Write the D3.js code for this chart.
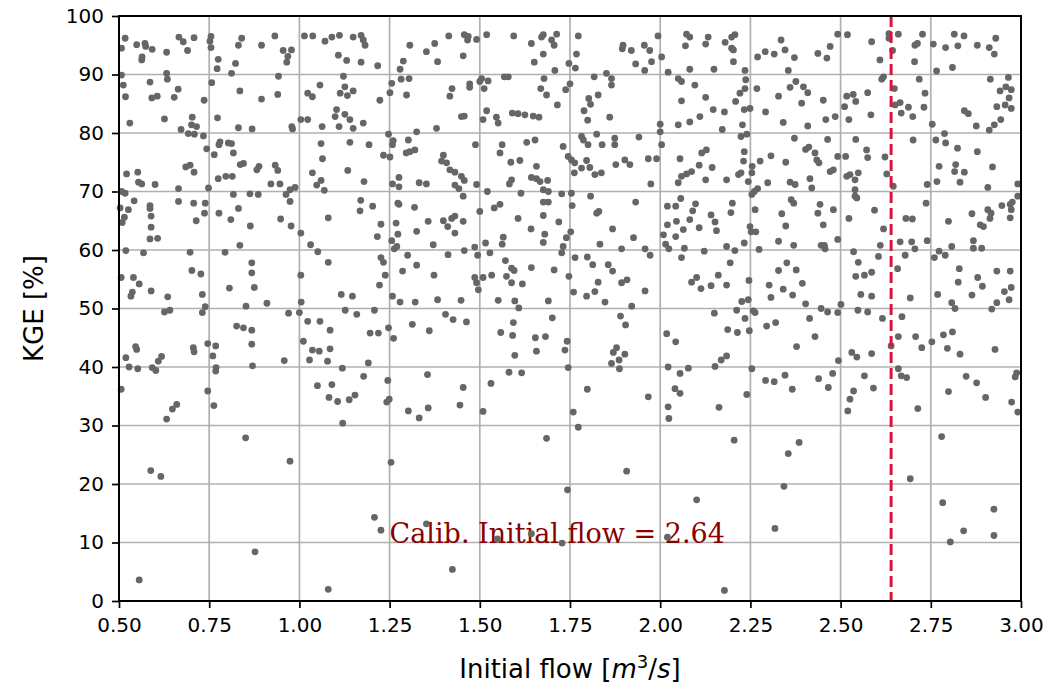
<!DOCTYPE html>
<html>
<head>
<meta charset="utf-8">
<script src="https://cdn.jsdelivr.net/npm/d3@7"></script>
<style>
  html, body { margin: 0; padding: 0; background: #fff; }
  svg { display: block; }
</style>
</head>
<body>
<svg id="chart" width="1058" height="693"></svg>
<script>
// ---- data ----
const xTicks = [0.5, 0.75, 1.0, 1.25, 1.5, 1.75, 2.0, 2.25, 2.5, 2.75, 3.0];
const yTicks = [0, 10, 20, 30, 40, 50, 60, 70, 80, 90, 100];
const xDomain = [0.5, 3.0];
const yDomain = [0, 100];
const calibFlow = 2.64;
const calibLabel = "Calib. Initial flow = 2.64";
const xLabel = "Initial flow";
const yLabel = "KGE [%]";

const samplesTop = [
[0.517,96.2],[0.507,94.5],[0.549,95.1],[0.572,95.3],[0.574,94.8],[0.592,94.3],[0.563,92.5],[0.564,93.0],[0.632,93.8],[0.666,96.4],[0.678,95.6],[0.708,96.3],[0.690,94.1],[0.755,96.5],[0.752,95.7],[0.755,94.6],[0.775,92.6],[0.772,91.0],[0.823,91.9],[0.812,90.2],[0.840,96.2],[0.831,95.0],[0.895,95.0],[0.932,96.6],[0.955,94.1],[0.978,94.2],[0.968,93.1],[0.965,92.1],[1.014,96.6],[1.037,96.6],[1.071,95.7],[1.090,96.4],[1.111,96.7],[1.149,96.4],[1.171,96.7],[1.177,95.9],[1.182,95.0],[1.108,93.3],[1.131,92.4],[1.171,92.1],[1.217,91.5],[1.288,92.3],[1.306,95.0],[1.279,90.9],
[0.507,89.9],[0.512,88.2],[0.518,86.2],[0.586,88.7],[0.632,90.2],[0.634,89.2],[0.664,87.5],[0.653,86.1],[0.591,86.0],[0.606,86.3],[0.736,85.6],[0.757,88.6],[0.835,87.2],[0.895,85.8],[0.942,89.7],[0.940,86.6],[0.530,81.7],[0.626,82.4],[0.703,82.7],[0.701,81.4],[0.715,81.1],[0.672,80.6],[0.692,79.9],[0.709,79.8],[0.734,79.5],[0.773,82.6],[0.831,80.9],[0.869,80.7],[0.979,81.1],[0.981,80.7],[1.004,82.3],[1.023,82.3],[1.057,88.2],[1.023,86.8],[1.036,86.2],[1.063,81.1],[1.122,89.7],[1.126,87.9],[1.113,86.8],[1.133,86.4],[1.149,87.2],[1.103,84.0],[1.099,82.8],[1.126,83.2],[1.140,82.3],[1.110,81.1],[1.149,80.8],[1.177,81.7],[1.223,85.6],[1.251,86.9],[1.256,88.5],[1.282,89.2],[1.304,89.3],[1.297,86.5],[1.325,80.2],
[0.743,77.3],[0.780,78.5],[0.777,78.0],[0.803,78.3],[0.812,78.2],[0.764,76.3],[0.817,76.6],[1.060,78.2],[1.064,75.6],[1.140,78.4],[1.193,78.0],[1.247,79.8],[1.260,78.7],[1.258,78.0],[1.233,76.2],[1.251,75.9],[1.302,78.8],[1.306,76.8],[1.296,76.6],
[1.352,93.9],[1.375,95.3],[1.383,92.2],[1.414,96.6],[1.457,96.8],[1.466,95.9],[1.468,96.5],[1.491,96.0],[1.454,93.2],[1.519,96.8],[1.594,96.6],[1.643,95.3],[1.676,96.8],[1.671,96.4],[1.713,96.9],[1.699,95.9],[1.706,95.0],[1.676,93.5],[1.651,92.1],[1.773,96.6],[1.768,93.5],[1.747,91.9],[1.765,91.1],[1.708,90.7],[1.897,95.0],[1.895,94.4],[1.920,94.1],[1.956,95.0],[1.971,94.1],[1.932,91.8],[1.957,90.7],[1.976,92.2],[2.004,93.0],[1.994,96.6],[2.073,96.9],[2.082,96.4],[2.070,94.9],[2.133,96.4],[2.126,95.2],[2.022,90.4],[2.082,90.9],[2.149,90.9],
[1.505,89.3],[1.500,88.8],[1.523,88.9],[1.512,87.6],[1.472,88.4],[1.472,87.8],[1.423,87.6],[1.417,86.3],[1.568,89.6],[1.579,89.6],[1.678,89.3],[1.669,87.6],[1.685,86.5],[1.715,84.8],[1.750,88.4],[1.738,87.4],[1.817,89.6],[1.851,90.2],[1.865,89.3],[1.865,88.2],[1.828,86.5],[1.802,85.9],[1.807,84.9],[1.789,83.8],[1.799,82.2],[1.860,82.7],[1.519,83.8],[1.509,82.3],[1.546,82.7],[1.551,81.7],[1.590,83.4],[1.606,83.3],[1.625,83.1],[1.648,82.9],[1.664,82.7],[1.457,82.9],[1.449,82.8],[1.380,80.8],[2.050,89.3],[2.059,88.8],[2.096,88.2],[2.059,85.5],[2.126,86.1],[2.147,84.0],[2.110,82.8],[2.082,81.9],[2.050,81.4],[2.000,81.5],[2.000,80.2],
[1.320,77.1],[1.399,76.2],[1.488,78.0],[1.562,78.0],[1.556,76.6],[1.630,78.4],[1.653,78.8],[1.731,77.7],[1.745,76.0],[1.782,79.4],[1.787,78.8],[1.800,78.0],[1.824,79.8],[1.839,78.0],[1.874,79.1],[1.874,78.0],[1.941,79.3],[2.004,78.0],[2.115,76.6],[2.128,77.1],
[2.180,95.5],[2.198,96.4],[2.207,96.8],[2.198,94.5],[2.203,94.2],[2.203,92.2],[2.235,90.7],[2.270,93.0],[2.291,93.9],[2.316,93.5],[2.335,95.9],[2.346,94.2],[2.372,92.9],[2.355,90.7],[2.437,93.6],[2.462,92.8],[2.471,94.8],[2.492,96.9],[2.519,96.8],[2.586,95.6],[2.609,92.5],[2.634,97.0],[2.634,96.2],[2.660,96.9],[2.644,94.1],[2.705,92.2],[2.706,95.0],[2.713,95.3],[2.727,96.9],[2.757,95.2],[2.766,90.6],[2.791,94.6],[2.810,91.2],[2.815,96.9],[2.825,94.9],[2.842,96.6],[2.879,95.0],[2.912,94.6],[2.926,93.5],[2.930,96.2],
[2.237,89.1],[2.235,87.6],[2.221,86.8],[2.209,85.4],[2.233,84.0],[2.249,84.2],[2.178,83.6],[2.172,80.6],[2.228,81.4],[2.224,79.4],[2.240,79.8],[2.268,87.6],[2.292,83.6],[2.328,86.3],[2.341,81.8],[2.360,87.8],[2.376,88.8],[2.397,87.9],[2.409,86.9],[2.392,85.1],[2.409,81.2],[2.452,85.6],[2.459,82.3],[2.485,82.8],[2.511,84.5],[2.517,86.3],[2.535,86.6],[2.542,85.4],[2.523,82.3],[2.575,86.9],[2.584,83.1],[2.614,89.2],[2.619,89.6],[2.649,87.6],[2.651,84.8],[2.665,85.2],[2.668,83.4],[2.688,84.4],[2.700,82.8],[2.718,89.2],[2.734,86.8],[2.731,84.4],[2.754,81.5],[2.843,83.8],[2.854,83.3],[2.876,81.2],[2.912,80.5],[2.926,81.4],[2.944,82.3],[2.915,89.2],[2.942,87.2],[2.958,87.9],[2.965,89.5],[2.973,87.4],[2.967,86.0],[2.933,84.5],[2.956,84.8],[2.973,84.2],
[2.372,79.1],[2.464,78.9],[2.542,78.9],[2.403,77.2],[2.412,77.6],[2.429,76.6],[2.233,76.8],[2.307,76.1],[2.492,76.0],[2.514,76.0],[2.572,77.1],[2.575,75.8],[2.623,75.9],[2.701,78.8],[2.764,78.8],[2.788,79.9],[2.791,78.3],[2.824,77.4],[2.879,76.8]
];

const samplesMiddle = [
[0.521,73.0],[0.552,73.3],[0.554,71.6],[0.563,71.3],[0.600,71.2],[0.685,74.2],[0.697,74.5],[0.708,73.3],[0.665,70.5],[0.748,70.6],[0.775,72.2],[0.796,72.6],[0.814,72.6],[0.836,74.6],[0.845,74.8],[0.882,73.7],[0.888,74.3],[0.933,74.5],[0.940,73.6],[0.921,71.3],[0.946,71.3],[0.974,70.3],[0.988,70.7],[1.036,73.2],[1.060,71.9],[1.048,71.1],[1.069,70.2],[1.134,73.6],[1.179,71.7],[1.258,71.3],[1.276,72.4],[1.276,70.8],[1.332,71.5],
[0.507,70.0],[0.517,69.7],[0.503,67.2],[0.526,66.9],[0.515,65.6],[0.509,64.7],[0.542,68.4],[0.586,67.6],[0.586,67.1],[0.589,65.8],[0.589,63.9],[0.586,61.9],[0.607,62.0],[0.665,68.3],[0.707,68.0],[0.739,68.0],[0.737,66.3],[0.714,65.0],[0.777,66.3],[0.810,65.2],[0.817,69.5],[0.831,67.1],[0.863,69.6],[0.886,69.5],[0.864,64.1],[0.835,60.8],[0.948,65.3],[0.963,69.5],[0.974,68.3],[0.977,64.1],[1.004,62.9],[1.031,60.9],[1.080,65.5],[1.170,68.5],[1.168,66.7],[1.203,67.5],[1.226,64.4],[1.216,62.3],[1.256,61.6],[1.268,64.6],[1.273,62.7],[1.273,68.0],[1.276,67.8],[1.319,67.3],[1.325,63.2],
[0.519,59.9],[0.568,59.5],[0.697,59.6],[0.794,59.6],[0.868,57.8],[0.868,56.1],[0.875,53.6],[0.806,53.5],[0.702,56.5],[0.727,55.9],[0.506,55.3],[0.540,55.3],[0.556,54.2],[0.537,52.8],[0.533,52.1],[0.589,53.0],[0.635,52.0],[0.731,52.4],[0.852,50.4],[0.910,50.9],[1.005,51.1],[1.004,55.7],[1.051,59.7],[1.080,57.9],[1.116,52.4],[1.147,52.1],[1.222,54.0],[1.238,55.7],[1.226,58.7],[1.233,57.9],[1.263,60.2],[1.270,60.6],[1.300,59.1],[1.325,57.4],[1.286,56.4],[1.258,52.1],[1.279,51.1],[1.321,51.1],
[1.394,75.2],[1.408,74.9],[1.417,73.7],[1.431,73.3],[1.449,72.6],[1.457,71.9],[1.431,71.1],[1.442,70.5],[1.352,71.3],[1.491,71.2],[1.454,69.2],[1.586,75.0],[1.611,75.3],[1.588,72.0],[1.582,71.3],[1.657,74.3],[1.643,72.4],[1.657,72.2],[1.667,71.7],[1.688,71.9],[1.614,69.7],[1.521,70.0],[1.676,70.3],[1.690,70.0],[1.676,68.2],[1.690,68.2],[1.727,69.6],[1.754,69.7],[1.756,67.6],[1.754,75.4],[1.763,74.9],[1.762,73.2],[1.782,74.0],[1.805,74.1],[1.819,72.9],[1.837,73.2],[1.796,75.3],[1.877,74.6],[1.902,75.4],[1.916,74.6],[1.967,75.6],[1.990,75.6],[1.974,71.3],[1.807,69.2],[1.932,68.2],[2.055,75.6],[2.050,71.5],[2.059,72.6],[2.073,73.0],[2.087,73.4],[2.108,74.5],[2.144,74.1],[2.126,72.0],
[1.357,64.9],[1.399,65.0],[1.411,64.0],[1.422,65.4],[1.431,65.8],[1.454,64.9],[1.431,62.9],[1.371,60.9],[1.500,66.6],[1.540,67.2],[1.556,67.8],[1.606,65.4],[1.642,63.6],[1.676,65.9],[1.680,62.7],[1.676,61.3],[1.719,64.8],[1.565,62.2],[1.562,61.0],[1.516,61.2],[1.486,60.5],[1.457,59.9],[1.740,62.1],[1.752,63.1],[1.731,60.6],[1.824,66.3],[1.830,66.6],[1.868,63.6],[1.926,62.1],[1.833,61.0],[1.893,60.2],[1.958,60.2],[1.972,59.1],[2.020,67.5],[2.043,67.5],[2.057,68.8],[2.098,67.9],[2.090,66.7],[2.082,65.2],[2.045,64.9],[2.020,64.3],[2.064,63.5],[2.043,62.3],[2.009,62.6],[2.108,63.8],[2.141,66.0],[2.152,64.8],[2.156,63.3],[2.015,61.0],[2.024,60.2],[2.067,60.3],[2.059,58.7],[2.122,59.8],
[1.412,59.2],[1.373,55.7],[1.494,59.1],[1.528,59.5],[1.571,58.2],[1.588,56.9],[1.595,56.5],[1.643,57.0],[1.706,56.6],[1.727,59.5],[1.486,55.3],[1.491,54.4],[1.496,53.2],[1.509,55.3],[1.533,55.7],[1.574,55.5],[1.588,54.4],[1.618,54.2],[1.747,55.5],[1.764,58.7],[1.798,58.8],[1.813,57.5],[1.856,57.5],[1.868,56.4],[1.828,54.5],[1.893,54.4],[1.908,54.9],[1.958,53.0],[1.760,52.8],[1.796,52.1],[1.819,52.9],[1.847,51.1],[1.383,51.5],[1.448,51.4],[1.551,51.4],[1.597,51.3],[1.690,51.3],[2.087,54.5],[2.101,55.3],[2.113,53.4],[2.141,53.9],[2.161,55.7],
[2.184,72.0],[2.217,72.9],[2.224,73.2],[2.244,71.7],[2.254,73.2],[2.255,74.3],[2.231,75.2],[2.298,71.5],[2.277,75.2],[2.348,75.0],[2.360,71.6],[2.374,71.2],[2.415,72.2],[2.420,70.6],[2.434,75.4],[2.440,74.9],[2.471,73.4],[2.480,73.7],[2.517,72.6],[2.540,72.0],[2.549,73.2],[2.526,72.9],[2.540,70.3],[2.628,73.0],[2.646,70.9],[2.740,71.2],[2.773,74.3],[2.816,73.4],[2.819,74.6],[2.843,73.3],[2.767,71.7],[2.831,71.6],[2.908,70.7],[2.921,74.2],[2.991,71.3],[2.254,69.5],[2.261,70.0],[2.270,70.5],
[2.200,68.0],[2.196,66.4],[2.263,66.9],[2.249,64.0],[2.252,63.1],[2.265,63.1],[2.233,61.2],[2.184,60.6],[2.207,59.9],[2.274,60.1],[2.337,66.2],[2.348,64.1],[2.363,68.6],[2.370,68.0],[2.328,61.5],[2.370,60.8],[2.437,66.3],[2.443,67.8],[2.480,66.9],[2.452,64.3],[2.446,60.8],[2.455,60.8],[2.457,60.2],[2.492,61.8],[2.523,65.4],[2.540,69.2],[2.545,68.9],[2.594,66.8],[2.619,63.6],[2.610,60.8],[2.681,65.4],[2.699,65.3],[2.665,61.4],[2.697,61.4],[2.706,60.2],[2.740,61.6],[2.737,68.0],[2.799,64.9],[2.864,66.2],[2.887,64.3],[2.896,64.0],[2.908,66.9],[2.917,66.3],[2.914,65.4],[2.947,67.6],[2.970,67.8],[2.973,66.9],[2.976,68.2],[2.970,65.5],[2.991,69.2],[2.808,60.6],[2.868,61.6],[2.868,60.3],[2.891,60.3],
[2.194,57.8],[2.184,54.0],[2.246,54.8],[2.226,51.2],[2.244,51.5],[2.328,56.5],[2.351,57.8],[2.377,56.6],[2.302,54.0],[2.341,53.3],[2.367,52.3],[2.394,54.3],[2.307,51.9],[2.403,50.8],[2.501,50.7],[2.536,59.7],[2.549,57.9],[2.605,58.9],[2.542,55.5],[2.566,55.7],[2.586,56.2],[2.556,52.4],[2.586,52.1],[2.658,56.8],[2.679,59.1],[2.693,51.8],[2.760,58.7],[2.773,59.8],[2.790,59.1],[2.829,56.8],[2.826,54.5],[2.769,52.4],[2.808,51.0],[2.864,52.3],[2.880,55.3],[2.893,53.8],[2.933,56.4],[2.970,56.4],[2.973,53.6],[2.954,52.9],[2.967,51.5],[2.933,51.0]
];

const samplesLow = [
[0.626,49.4],[0.641,49.7],[0.731,49.3],[0.739,50.3],[0.826,47.0],[0.845,46.7],[0.868,46.3],[0.868,43.9],[0.970,49.2],[1.000,49.3],[1.023,47.8],[1.057,47.8],[1.085,46.3],[1.011,44.4],[1.036,42.9],[1.055,42.7],[1.085,43.1],[1.127,49.7],[1.159,49.0],[1.208,49.7],[1.196,45.8],[1.219,45.8],[1.247,46.7],[1.261,44.9],[1.313,47.3],[0.546,43.5],[0.549,43.0],[0.519,41.6],[0.528,40.0],[0.552,39.7],[0.592,39.9],[0.602,39.4],[0.609,41.0],[0.618,41.8],[0.706,43.3],[0.708,42.6],[0.746,44.0],[0.768,43.6],[0.760,41.9],[0.769,39.9],[0.768,39.3],[0.870,40.2],[0.958,41.1],[1.028,41.2],[1.078,41.0],[1.119,39.8],[1.191,40.7],[0.506,36.2],[0.746,35.9],[0.763,33.4],[0.660,33.6],[0.648,32.8],[0.632,31.1],[1.050,36.8],[1.090,37.0],[1.082,34.8],[1.106,34.1],[1.138,34.4],[1.154,35.2],[1.178,38.4],[1.245,37.7],[1.242,34.0],[1.249,34.5],[1.302,32.5],[1.332,31.3],[1.120,30.4],[0.851,27.9],
[1.360,46.2],[1.405,49.0],[1.426,48.1],[1.463,47.7],[1.608,50.1],[1.593,47.6],[1.558,45.9],[1.591,45.4],[1.597,42.0],[1.654,45.0],[1.682,45.2],[1.657,42.7],[1.701,48.4],[1.742,44.4],[1.736,42.9],[1.745,39.9],[1.581,39.1],[1.616,39.0],[1.531,37.2],[1.355,38.7],[1.454,36.5],[1.445,33.5],[1.357,33.0],[1.509,32.4],[1.798,36.2],[1.759,32.3],[1.773,29.7],[1.685,27.8],[1.890,48.7],[1.904,47.2],[1.870,42.5],[1.879,43.3],[1.902,42.2],[1.886,41.2],[1.865,40.6],[1.887,39.7],[1.921,50.4],[1.967,34.9],[2.018,45.7],[2.043,44.3],[2.022,40.0],[2.055,38.9],[2.078,39.8],[2.041,36.3],[2.055,35.5],[2.022,33.2],[2.024,31.2],[2.150,49.2],[2.152,40.1],[2.163,33.1],
[2.212,49.7],[2.258,49.6],[2.263,49.3],[2.235,48.3],[2.187,46.4],[2.214,45.9],[2.247,46.2],[2.295,47.0],[2.320,47.6],[2.414,48.3],[2.446,50.0],[2.464,49.4],[2.492,49.3],[2.548,49.7],[2.575,49.4],[2.616,48.3],[2.670,48.6],[2.429,45.2],[2.378,43.5],[2.660,45.2],[2.640,43.6],[2.708,45.2],[2.725,43.3],[2.753,44.3],[2.785,45.5],[2.810,46.0],[2.796,43.2],[2.831,42.2],[2.928,43.0],[2.817,50.0],[2.919,49.9],[2.169,41.2],[2.184,41.9],[2.254,39.7],[2.292,37.7],[2.316,37.5],[2.346,38.6],[2.366,36.2],[2.439,38.0],[2.466,36.5],[2.478,38.9],[2.494,41.1],[2.531,42.5],[2.545,41.7],[2.586,42.3],[2.536,35.9],[2.526,34.5],[2.520,32.5],[2.566,38.5],[2.591,36.4],[2.660,39.7],[2.668,38.5],[2.683,38.2],[2.714,32.9],[2.240,35.3],[2.799,35.8],[2.848,38.4],[2.877,37.3],[2.902,34.8],[2.974,34.0],[2.991,32.3],[2.988,39.0],[2.984,38.3],[2.205,27.5],[2.385,27.1],[2.355,25.2],[2.780,28.1],
[0.588,22.3],[0.616,21.3],[0.974,23.9],[1.254,23.7],[1.208,14.3],[1.226,12.1],[0.877,8.4],[0.556,3.6],[1.080,2.0],
[1.907,22.2],[1.743,19.0],[2.101,17.3],[1.352,13.2],[1.549,10.6],[1.643,11.5],[1.728,9.9],[2.020,10.9],[1.424,5.4],
[2.343,19.6],[2.318,12.4],[2.178,1.8],[2.693,20.9],[2.783,16.8],[2.925,15.7],[2.841,12.0],[2.804,10.1],[2.925,11.2]
];

const samples = samplesTop.concat(samplesMiddle, samplesLow);

// ---- layout ----
const margin = {left: 119, right: 1058 - 1021, top: 16, bottom: 693 - 601};
const W = 1058, H = 693;
const svg = d3.select("#chart");
const x = d3.scaleLinear().domain(xDomain).range([margin.left, W - margin.right]);
const y = d3.scaleLinear().domain(yDomain).range([H - margin.bottom, margin.top]);

const font = "'DejaVu Sans', sans-serif";

// grid
const grid = svg.append("g");
grid.selectAll("line.gx").data(xTicks).join("line")
  .attr("x1", d => x(d)).attr("x2", d => x(d))
  .attr("y1", y(100)).attr("y2", y(0))
  .attr("stroke", "#b0b0b0").attr("stroke-width", 1.7);
grid.selectAll("line.gy").data(yTicks).join("line")
  .attr("x1", x(0.5)).attr("x2", x(3.0))
  .attr("y1", d => y(d)).attr("y2", d => y(d))
  .attr("stroke", "#b0b0b0").attr("stroke-width", 1.7);

// annotation text (under points)
svg.append("text")
  .attr("x", x(1.25)).attr("y", y(10))
  .attr("font-family", "'DejaVu Serif', serif")
  .attr("font-size", 27)
  .attr("fill", "#8b0000")
  .text(calibLabel);

// points
svg.append("g").selectAll("circle").data(samples).join("circle")
  .attr("cx", d => x(d[0])).attr("cy", d => y(d[1]))
  .attr("r", 3.4).attr("fill", "#666666");

// calibration line
svg.append("line")
  .attr("x1", x(calibFlow)).attr("x2", x(calibFlow))
  .attr("y1", y(100)).attr("y2", y(0))
  .attr("stroke", "#dc143c").attr("stroke-width", 3)
  .attr("stroke-dasharray", "11,5");

// axes
const xAxis = d3.axisBottom(x).tickValues(xTicks).tickFormat(d3.format(".2f")).tickSizeOuter(0).tickSize(7).tickPadding(10);
const yAxis = d3.axisLeft(y).tickValues(yTicks).tickFormat(d3.format("d")).tickSizeOuter(0).tickSize(7).tickPadding(8);

const gx = svg.append("g").attr("transform", `translate(0,${y(0)})`).call(xAxis);
const gy = svg.append("g").attr("transform", `translate(${x(0.5)},0)`).call(yAxis);
[gx, gy].forEach(g => {
  g.select(".domain").remove();
  g.selectAll(".tick line").attr("stroke", "#000").attr("stroke-width", 1.7);
  g.selectAll(".tick text").attr("font-family", font).attr("font-size", 20).attr("fill", "#000");
});

// frame
svg.append("rect")
  .attr("x", x(0.5)).attr("y", y(100))
  .attr("width", x(3.0) - x(0.5)).attr("height", y(0) - y(100))
  .attr("fill", "none").attr("stroke", "#000").attr("stroke-width", 2);

// axis labels
const xl = svg.append("text")
  .attr("x", (x(0.5) + x(3.0)) / 2).attr("y", 678)
  .attr("text-anchor", "middle")
  .attr("font-family", font).attr("font-size", 26).attr("fill", "#000");
xl.append("tspan").text(xLabel + " [");
xl.append("tspan").attr("font-style", "italic").text("m");
xl.append("tspan").attr("font-size", 18).attr("dy", -10).text("3");
xl.append("tspan").attr("dy", 10).text("/");
xl.append("tspan").attr("font-style", "italic").text("s");
xl.append("tspan").text("]");

svg.append("text")
  .attr("transform", `translate(43,${(y(0) + y(100)) / 2}) rotate(-90)`)
  .attr("text-anchor", "middle")
  .attr("font-family", font).attr("font-size", 26).attr("fill", "#000")
  .text(yLabel);
</script>
</body>
</html>
